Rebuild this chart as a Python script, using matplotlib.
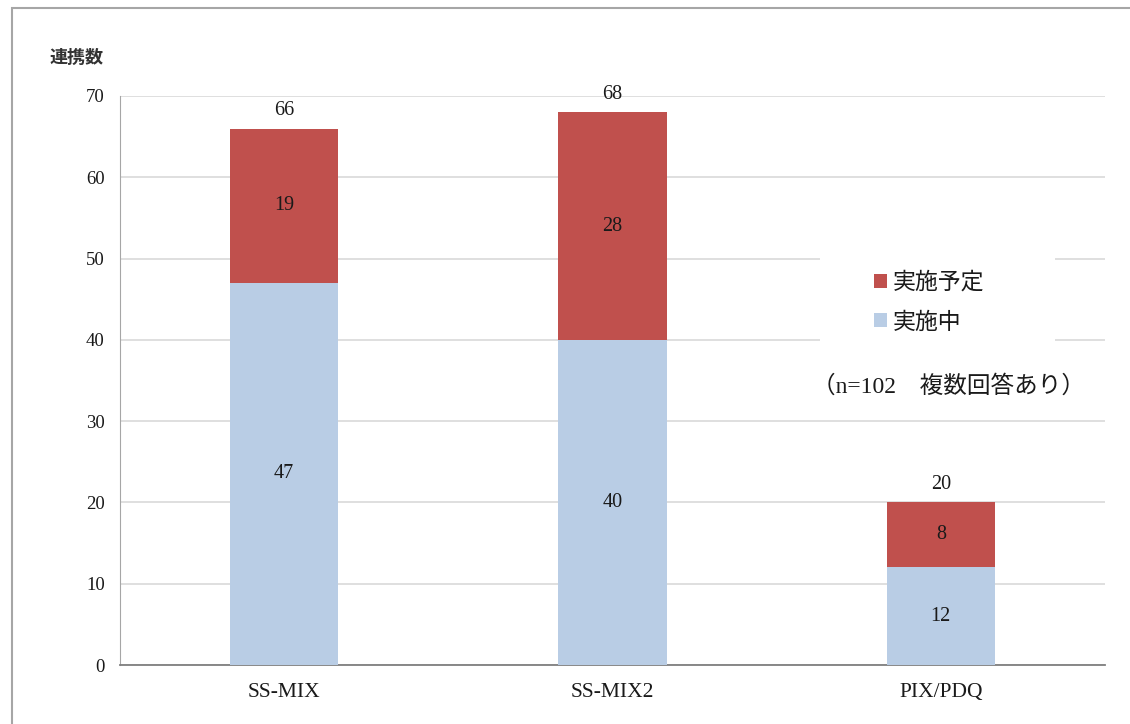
import matplotlib
matplotlib.use("Agg")
import matplotlib.pyplot as plt
from matplotlib.patches import Rectangle, Patch

categories = ["SS-MIX", "SS-MIX2", "PIX/PDQ"]
ongoing = [47, 40, 12]      # 実施中
planned = [19, 28, 8]       # 実施予定
series_names = ["実施予定", "実施中"]
yticks = [0, 10, 20, 30, 40, 50, 60, 70]

RED = "#C0504D"
BLUE = "#B9CDE5"
TXT = "#1A1A1A"
SERIF = ["Liberation Serif", "DejaVu Serif"]
JP = ["Noto Sans CJK JP", "DejaVu Sans"]

fig = plt.figure(figsize=(11.3, 7.24), dpi=100)
# outer frame: top and left edges visible, others run off the image
fig.patches.append(Rectangle((12/1130, -0.05), 1.2, 1 - 8/724 + 0.05,
                             transform=fig.transFigure, fill=False,
                             edgecolor="#A6A6A6", linewidth=1.5))
ax = fig.add_axes([120/1130, 59/724, 985/1130, 569/724])

x = list(range(len(categories)))
w = 0.33
ax.bar(x, ongoing, width=w, color=BLUE, zorder=3)
ax.bar(x, planned, width=w, bottom=ongoing, color=RED, zorder=3)

for i in x:
    ax.text(i, ongoing[i] / 2, str(ongoing[i]), ha="center", va="center",
            fontsize=14.5, family=SERIF, color=TXT, zorder=4)
    ax.text(i, ongoing[i] + planned[i] / 2, str(planned[i]), ha="center", va="center",
            fontsize=14.5, family=SERIF, color=TXT, zorder=4)
    ax.text(i, ongoing[i] + planned[i] + 1.0, str(ongoing[i] + planned[i]),
            ha="center", va="bottom", fontsize=14.5, family=SERIF, color=TXT, zorder=4)

ax.set_xlim(-0.5, 2.5)
ax.set_ylim(0, 70)
ax.set_yticks(yticks)
ax.set_yticklabels([str(t) for t in yticks], family=SERIF, fontsize=13.5, color=TXT)
ax.set_xticks(x)
ax.set_xticklabels(categories, family=SERIF, fontsize=15.5, color=TXT)
ax.tick_params(axis="both", length=0)
ax.tick_params(axis="y", pad=11)
ax.tick_params(axis="x", pad=13)
ax.yaxis.grid(True, color="#D9D9D9", linewidth=1.2, zorder=0)
ax.set_axisbelow(True)
for s in ["top", "right"]:
    ax.spines[s].set_visible(False)
ax.spines["left"].set_color("#A6A6A6")
ax.spines["bottom"].set_color("#7F7F7F")
ax.spines["bottom"].set_linewidth(1.3)

fig.text(50/1130, 1 - 57/724, "連携数", family=JP, fontsize=13, fontweight="bold",
         color="#333333", va="center", ha="left")

# white plate behind the legend (hides gridlines as in the reference)
ax.add_patch(Rectangle(((820 - 120) / 985, (665 - 348) / 569), 235 / 985, 98 / 569,
                       transform=ax.transAxes, facecolor="white", edgecolor="none",
                       zorder=2))

handles = [Patch(facecolor=RED), Patch(facecolor=BLUE)]
leg = ax.legend(handles, series_names, loc="upper left",
                bbox_to_anchor=((874 - 120) / 985, (665 - 271) / 569),
                prop={"family": JP, "size": 16.5}, frameon=False,
                handlelength=0.55, handleheight=0.55, handletextpad=0.25,
                borderpad=0, labelspacing=0.72, borderaxespad=0)
for t in leg.get_texts():
    t.set_color(TXT)
leg.set_zorder(5)

ax.text((812 - 120) / 985, (665 - 386) / 569, "（n=102　複数回答あり）",
        transform=ax.transAxes, family=["Liberation Serif", "Noto Sans CJK JP"],
        fontsize=17, ha="left", va="center", color=TXT, zorder=5)

fig.savefig("out.png", dpi=100)
